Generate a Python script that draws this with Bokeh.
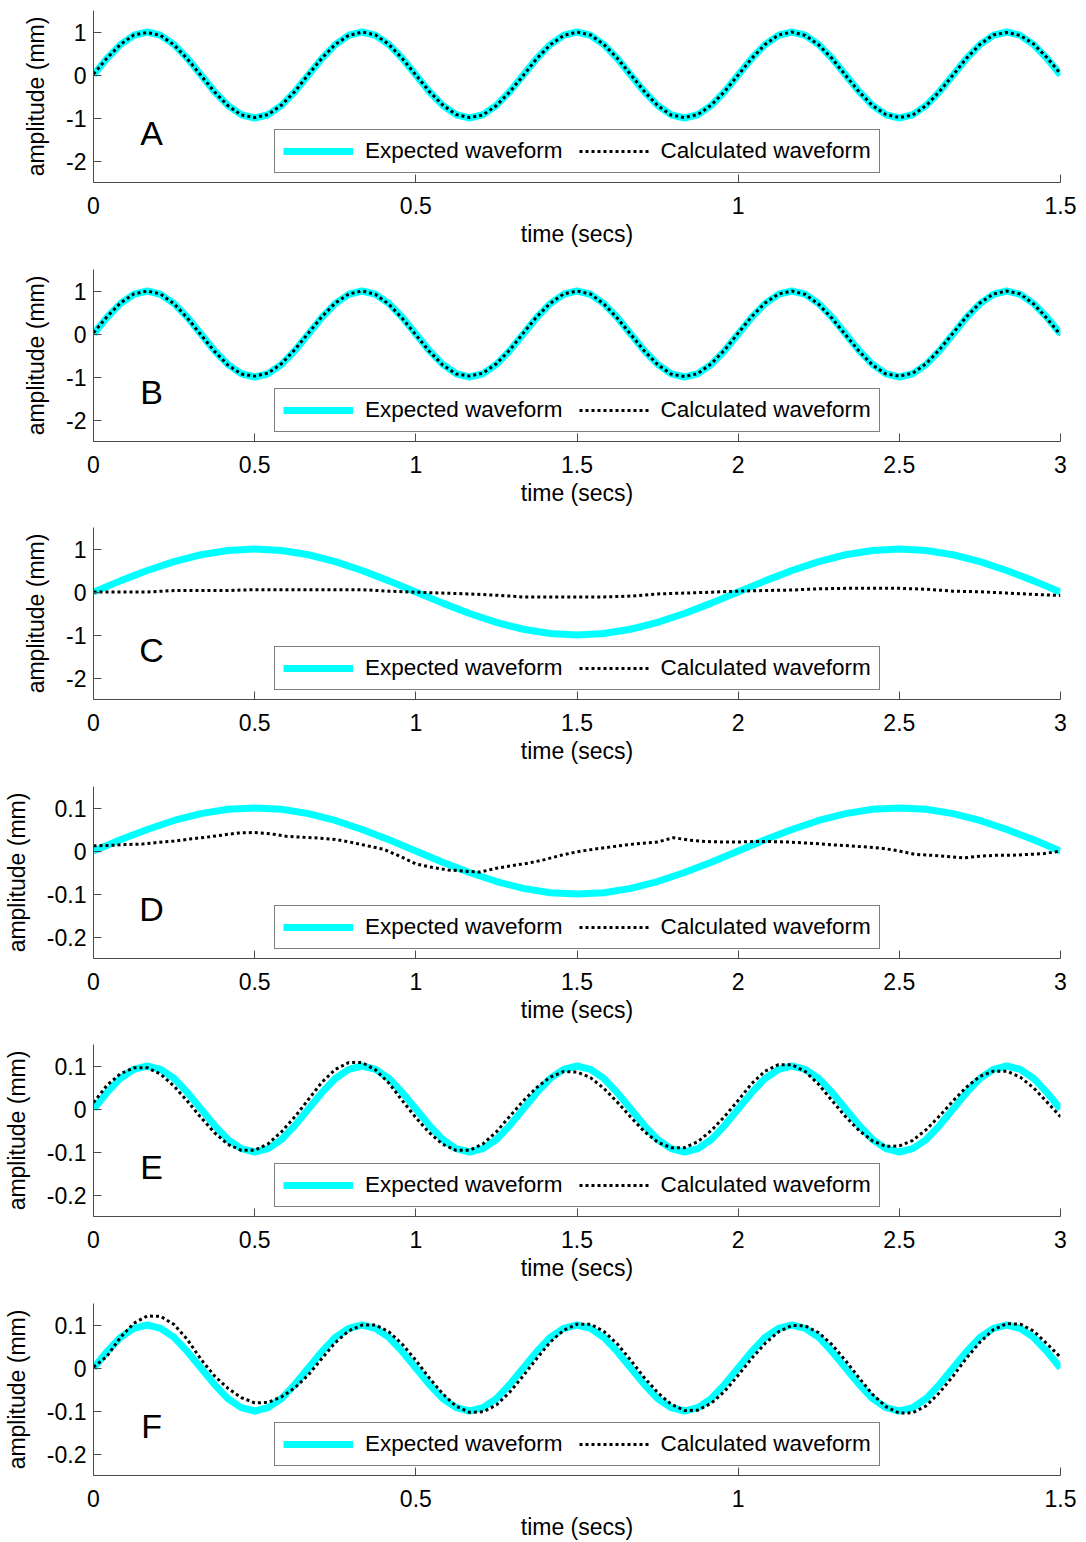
from bokeh.plotting import figure
from bokeh.models import Range1d, FixedTicker, Legend, LegendItem, Label
from bokeh.layouts import column
from bokeh.embed import file_html
from bokeh.resources import INLINE

# ---------------- data ----------------
time_A = [0, 0.0208, 0.0417, 0.0625, 0.0833, 0.1042, 0.125, 0.1458, 0.1667, 0.1875, 0.2083, 0.2292,
          0.25, 0.2708, 0.2917, 0.3125, 0.3333, 0.3542, 0.375, 0.3958, 0.4167, 0.4375, 0.4583, 0.4792,
          0.5, 0.5208, 0.5417, 0.5625, 0.5833, 0.6042, 0.625, 0.6458, 0.6667, 0.6875, 0.7083, 0.7292,
          0.75, 0.7708, 0.7917, 0.8125, 0.8333, 0.8542, 0.875, 0.8958, 0.9167, 0.9375, 0.9583, 0.9792,
          1.0, 1.0208, 1.0417, 1.0625, 1.0833, 1.1042, 1.125, 1.1458, 1.1667, 1.1875, 1.2083, 1.2292,
          1.25, 1.2708, 1.2917, 1.3125, 1.3333, 1.3542, 1.375, 1.3958, 1.4167, 1.4375, 1.4583, 1.4792, 1.5]
time_B = [0, 0.0417, 0.0833, 0.125, 0.1667, 0.2083, 0.25, 0.2917, 0.3333, 0.375, 0.4167, 0.4583,
          0.5, 0.5417, 0.5833, 0.625, 0.6667, 0.7083, 0.75, 0.7917, 0.8333, 0.875, 0.9167, 0.9583,
          1.0, 1.0417, 1.0833, 1.125, 1.1667, 1.2083, 1.25, 1.2917, 1.3333, 1.375, 1.4167, 1.4583,
          1.5, 1.5417, 1.5833, 1.625, 1.6667, 1.7083, 1.75, 1.7917, 1.8333, 1.875, 1.9167, 1.9583,
          2.0, 2.0417, 2.0833, 2.125, 2.1667, 2.2083, 2.25, 2.2917, 2.3333, 2.375, 2.4167, 2.4583,
          2.5, 2.5417, 2.5833, 2.625, 2.6667, 2.7083, 2.75, 2.7917, 2.8333, 2.875, 2.9167, 2.9583, 3.0]
time_C = [0, 0.0833, 0.1667, 0.25, 0.3333, 0.4167, 0.5, 0.5833, 0.6667, 0.75, 0.8333, 0.9167,
          1.0, 1.0833, 1.1667, 1.25, 1.3333, 1.4167, 1.5, 1.5833, 1.6667, 1.75, 1.8333, 1.9167,
          2.0, 2.0833, 2.1667, 2.25, 2.3333, 2.4167, 2.5, 2.5833, 2.6667, 2.75, 2.8333, 2.9167, 3.0]
time_D_calc = [0, 0.05, 0.1, 0.15, 0.2, 0.25, 0.3, 0.35, 0.4, 0.45, 0.5, 0.55, 0.6, 0.65, 0.7, 0.75,
               0.8, 0.85, 0.9, 0.95, 1.0, 1.05, 1.1, 1.15, 1.2, 1.25, 1.3, 1.35, 1.4, 1.45, 1.5,
               1.55, 1.6, 1.65, 1.7, 1.75, 1.8, 1.85, 1.9, 1.95, 2.0, 2.05, 2.1, 2.15, 2.2, 2.25,
               2.3, 2.35, 2.4, 2.45, 2.5, 2.55, 2.6, 2.65, 2.7, 2.75, 2.8, 2.85, 2.9, 2.95, 3.0]

expected_A = [0, 0.383, 0.707, 0.924, 1, 0.924, 0.707, 0.383, 0, -0.383, -0.707, -0.924, -1, -0.924, -0.707, -0.383,
              0, 0.383, 0.707, 0.924, 1, 0.924, 0.707, 0.383, 0, -0.383, -0.707, -0.924, -1, -0.924, -0.707, -0.383,
              0, 0.383, 0.707, 0.924, 1, 0.924, 0.707, 0.383, 0, -0.383, -0.707, -0.924, -1, -0.924, -0.707, -0.383,
              0, 0.383, 0.707, 0.924, 1, 0.924, 0.707, 0.383, 0, -0.383, -0.707, -0.924, -1, -0.924, -0.707, -0.383,
              0, 0.383, 0.707, 0.924, 1, 0.924, 0.707, 0.383, 0]
calc_A = [0.02, 0.39, 0.71, 0.93, 0.99, 0.92, 0.70, 0.37, -0.01, -0.39, -0.71, -0.93, -0.99, -0.92, -0.70, -0.38,
          0.01, 0.39, 0.71, 0.92, 1.0, 0.93, 0.71, 0.38, 0.0, -0.38, -0.70, -0.92, -0.99, -0.93, -0.71, -0.39,
          -0.01, 0.38, 0.70, 0.92, 1.0, 0.93, 0.71, 0.39, 0.01, -0.38, -0.71, -0.93, -0.99, -0.92, -0.70, -0.38,
          0.0, 0.38, 0.71, 0.93, 1.0, 0.92, 0.70, 0.38, -0.01, -0.39, -0.71, -0.92, -0.99, -0.93, -0.71, -0.38,
          0.0, 0.39, 0.71, 0.93, 0.99, 0.92, 0.72, 0.40, 0.03]

expected_B = [0, 0.383, 0.707, 0.924, 1, 0.924, 0.707, 0.383, 0, -0.383, -0.707, -0.924, -1, -0.924, -0.707, -0.383,
              0, 0.383, 0.707, 0.924, 1, 0.924, 0.707, 0.383, 0, -0.383, -0.707, -0.924, -1, -0.924, -0.707, -0.383,
              0, 0.383, 0.707, 0.924, 1, 0.924, 0.707, 0.383, 0, -0.383, -0.707, -0.924, -1, -0.924, -0.707, -0.383,
              0, 0.383, 0.707, 0.924, 1, 0.924, 0.707, 0.383, 0, -0.383, -0.707, -0.924, -1, -0.924, -0.707, -0.383,
              0, 0.383, 0.707, 0.924, 1, 0.924, 0.707, 0.383, 0]
calc_B = [0.03, 0.40, 0.72, 0.93, 1.0, 0.93, 0.70, 0.37, -0.02, -0.40, -0.72, -0.93, -0.98, -0.91, -0.69, -0.36,
          0.02, 0.40, 0.72, 0.93, 1.0, 0.92, 0.69, 0.36, -0.02, -0.40, -0.72, -0.93, -0.98, -0.91, -0.69, -0.37,
          0.02, 0.40, 0.71, 0.93, 1.0, 0.93, 0.70, 0.37, -0.01, -0.39, -0.71, -0.93, -0.99, -0.92, -0.69, -0.37,
          0.02, 0.40, 0.72, 0.93, 1.0, 0.92, 0.69, 0.36, -0.02, -0.40, -0.72, -0.93, -0.98, -0.91, -0.69, -0.36,
          0.02, 0.40, 0.72, 0.93, 1.0, 0.93, 0.70, 0.36, -0.02]

expected_C = [0, 0.259, 0.5, 0.707, 0.866, 0.966, 1, 0.966, 0.866, 0.707, 0.5, 0.259,
              0, -0.259, -0.5, -0.707, -0.866, -0.966, -1, -0.966, -0.866, -0.707, -0.5, -0.259,
              0, 0.259, 0.5, 0.707, 0.866, 0.966, 1, 0.966, 0.866, 0.707, 0.5, 0.259, 0]
calc_C = [0.0, 0.0, 0.0, 0.035, 0.035, 0.035, 0.055, 0.055, 0.055, 0.055, 0.055, 0.02,
          -0.005, -0.025, -0.045, -0.075, -0.115, -0.115, -0.115, -0.115, -0.095, -0.045, -0.025, -0.005,
          0.02, 0.035, 0.045, 0.075, 0.085, 0.085, 0.085, 0.065, 0.02, 0.005, -0.025, -0.055, -0.08]

expected_D = [0, 0.026, 0.05, 0.071, 0.087, 0.097, 0.1, 0.097, 0.087, 0.071, 0.05, 0.026,
              0, -0.026, -0.05, -0.071, -0.087, -0.097, -0.1, -0.097, -0.087, -0.071, -0.05, -0.026,
              0, 0.026, 0.05, 0.071, 0.087, 0.097, 0.1, 0.097, 0.087, 0.071, 0.05, 0.026, 0]
calc_D = [0.012, 0.013, 0.015, 0.016, 0.020, 0.023, 0.028, 0.032, 0.037, 0.042, 0.043, 0.040, 0.034, 0.032,
          0.030, 0.027, 0.020, 0.012, 0.004, -0.012, -0.030, -0.038, -0.044, -0.047, -0.049, -0.040, -0.034,
          -0.028, -0.020, -0.010, -0.002, 0.004, 0.009, 0.014, 0.018, 0.021, 0.031, 0.025, 0.022, 0.021,
          0.021, 0.022, 0.022, 0.021, 0.019, 0.017, 0.014, 0.012, 0.009, 0.006, 0.000, -0.008, -0.010,
          -0.013, -0.016, -0.012, -0.010, -0.010, -0.008, -0.006, 0.000]

expected_E = [0, 0.038, 0.071, 0.092, 0.1, 0.092, 0.071, 0.038, 0, -0.038, -0.071, -0.092, -0.1, -0.092, -0.071, -0.038,
              0, 0.038, 0.071, 0.092, 0.1, 0.092, 0.071, 0.038, 0, -0.038, -0.071, -0.092, -0.1, -0.092, -0.071, -0.038,
              0, 0.038, 0.071, 0.092, 0.1, 0.092, 0.071, 0.038, 0, -0.038, -0.071, -0.092, -0.1, -0.092, -0.071, -0.038,
              0, 0.038, 0.071, 0.092, 0.1, 0.092, 0.071, 0.038, 0, -0.038, -0.071, -0.092, -0.1, -0.092, -0.071, -0.038,
              0, 0.038, 0.071, 0.092, 0.1, 0.092, 0.071, 0.038, 0]
calc_E = [0.015, 0.055, 0.082, 0.096, 0.096, 0.081, 0.053, 0.018, -0.020, -0.055, -0.082, -0.096, -0.096, -0.081, -0.053, -0.018,
          0.022, 0.062, 0.092, 0.108, 0.108, 0.091, 0.060, 0.019, -0.020, -0.055, -0.082, -0.096, -0.096, -0.081, -0.053, -0.017,
          0.019, 0.050, 0.074, 0.087, 0.086, 0.073, 0.048, 0.016, -0.019, -0.052, -0.077, -0.090, -0.090, -0.076, -0.050, -0.017,
          0.020, 0.059, 0.088, 0.103, 0.103, 0.087, 0.057, 0.019, -0.018, -0.050, -0.074, -0.087, -0.086, -0.073, -0.048, -0.016,
          0.019, 0.051, 0.076, 0.088, 0.088, 0.074, 0.049, 0.016, -0.018]

expected_F = [0, 0.038, 0.071, 0.092, 0.1, 0.092, 0.071, 0.038, 0, -0.038, -0.071, -0.092, -0.1, -0.092, -0.071, -0.038,
              0, 0.038, 0.071, 0.092, 0.1, 0.092, 0.071, 0.038, 0, -0.038, -0.071, -0.092, -0.1, -0.092, -0.071, -0.038,
              0, 0.038, 0.071, 0.092, 0.1, 0.092, 0.071, 0.038, 0, -0.038, -0.071, -0.092, -0.1, -0.092, -0.071, -0.038,
              0, 0.038, 0.071, 0.092, 0.1, 0.092, 0.071, 0.038, 0, -0.038, -0.071, -0.092, -0.1, -0.092, -0.071, -0.038,
              0, 0.038, 0.071, 0.092, 0.1, 0.092, 0.071, 0.038, 0]
calc_F = [0.002, 0.027, 0.071, 0.104, 0.121, 0.120, 0.101, 0.066, 0.020, -0.018, -0.047, -0.069, -0.081, -0.080, -0.067, -0.046,
          -0.016, 0.022, 0.059, 0.086, 0.100, 0.100, 0.084, 0.055, 0.018, -0.023, -0.060, -0.089, -0.103, -0.102, -0.086, -0.056,
          -0.018, 0.022, 0.060, 0.088, 0.102, 0.102, 0.085, 0.056, 0.018, -0.022, -0.057, -0.084, -0.099, -0.098, -0.082, -0.054,
          -0.017, 0.022, 0.057, 0.084, 0.099, 0.098, 0.082, 0.054, 0.017, -0.023, -0.061, -0.090, -0.105, -0.104, -0.088, -0.057,
          -0.019, 0.023, 0.060, 0.089, 0.103, 0.102, 0.086, 0.056, 0.025]

x_ticks_short = [0, 0.5, 1, 1.5]
x_labels_short = ["0", "0.5", "1", "1.5"]
x_ticks_long = [0, 0.5, 1, 1.5, 2, 2.5, 3]
x_labels_long = ["0", "0.5", "1", "1.5", "2", "2.5", "3"]
y_ticks_big = [-2, -1, 0, 1]
y_labels_big = ["-2", "-1", "0", "1"]
y_ticks_small = [-0.2, -0.1, 0, 0.1]
y_labels_small = ["-0.2", "-0.1", "0", "0.1"]

legend_labels = ["Expected waveform", "Calculated waveform"]
x_axis_title = "time (secs)"
y_axis_title = "amplitude (mm)"

panels = [
    ("A", time_A, expected_A, time_A, calc_A, (0, 1.5), (-2.5, 1.5), x_ticks_short, x_labels_short, y_ticks_big, y_labels_big),
    ("B", time_B, expected_B, time_B, calc_B, (0, 3), (-2.5, 1.5), x_ticks_long, x_labels_long, y_ticks_big, y_labels_big),
    ("C", time_C, expected_C, time_C, calc_C, (0, 3), (-2.5, 1.5), x_ticks_long, x_labels_long, y_ticks_big, y_labels_big),
    ("D", time_C, expected_D, time_D_calc, calc_D, (0, 3), (-0.25, 0.15), x_ticks_long, x_labels_long, y_ticks_small, y_labels_small),
    ("E", time_B, expected_E, time_B, calc_E, (0, 3), (-0.25, 0.15), x_ticks_long, x_labels_long, y_ticks_small, y_labels_small),
    ("F", time_A, expected_F, time_A, calc_F, (0, 1.5), (-0.25, 0.15), x_ticks_short, x_labels_short, y_ticks_small, y_labels_small),
]

FONT = "Liberation Sans"
AXIS_COLOR = "#4a4a4a"
bottom_borders = [77, 76, 77, 76, 77, 50]

figs = []
for i, (letter, tx, ye, tc, yc, xr, yr, xt, xl, yt, yl) in enumerate(panels):
    p = figure(frame_width=967, frame_height=172, output_backend="svg", toolbar_location=None,
               x_range=Range1d(*xr), y_range=Range1d(*yr),
               min_border_left=93, min_border_right=18, min_border_top=10,
               min_border_bottom=bottom_borders[i])
    p.outline_line_color = None
    p.grid.visible = False
    p.background_fill_color = "white"
    p.border_fill_color = "white"

    r1 = p.line(tx, ye, line_color="#00FFFF", line_width=7)
    r2 = p.line(tc, yc, line_color="black", line_width=3, line_dash="3 3")

    for ax, ticks, labels, title in ((p.xaxis[0], xt, xl, x_axis_title), (p.yaxis[0], yt, yl, y_axis_title)):
        ax.ticker = FixedTicker(ticks=ticks, minor_ticks=[])
        ax.major_label_overrides = {t: s for t, s in zip(ticks, labels)}
        ax.axis_label = title
        ax.axis_label_text_font = FONT
        ax.axis_label_text_font_size = "23px"
        ax.axis_label_text_font_style = "normal"
        ax.axis_label_text_color = "black"
        ax.major_label_text_font = FONT
        ax.major_label_text_font_size = "23px"
        ax.major_label_text_color = "black"
        ax.axis_line_color = AXIS_COLOR
        ax.major_tick_line_color = AXIS_COLOR
        ax.minor_tick_line_color = None
        ax.major_tick_out = 0
        ax.major_tick_in = 8
    p.xaxis[0].major_label_standoff = 14
    p.xaxis[0].axis_label_standoff = 4
    p.yaxis[0].major_label_standoff = 7
    p.yaxis[0].axis_label_standoff = 14

    legend = Legend(items=[LegendItem(label=legend_labels[0], renderers=[r1]),
                           LegendItem(label=legend_labels[1], renderers=[r2])],
                    orientation="horizontal", location=(181, 9),
                    label_text_font=FONT, label_text_font_size="22.5px", label_text_color="black",
                    glyph_width=70, glyph_height=20, label_standoff=12, spacing=16, padding=8,
                    border_line_color="black", border_line_width=1, background_fill_color="white",
                    background_fill_alpha=1.0)
    p.add_layout(legend)

    x0, x1 = xr
    y0, y1 = yr
    p.add_layout(Label(x=x0 + 0.06 * (x1 - x0), y=y0 + 0.29 * (y1 - y0), text=letter,
                       text_font=FONT, text_font_size="34px", text_align="center",
                       text_baseline="middle", text_color="black"))
    figs.append(p)

layout = column(*figs, spacing=0)
open("out.html", "w").write(file_html(layout, INLINE))
